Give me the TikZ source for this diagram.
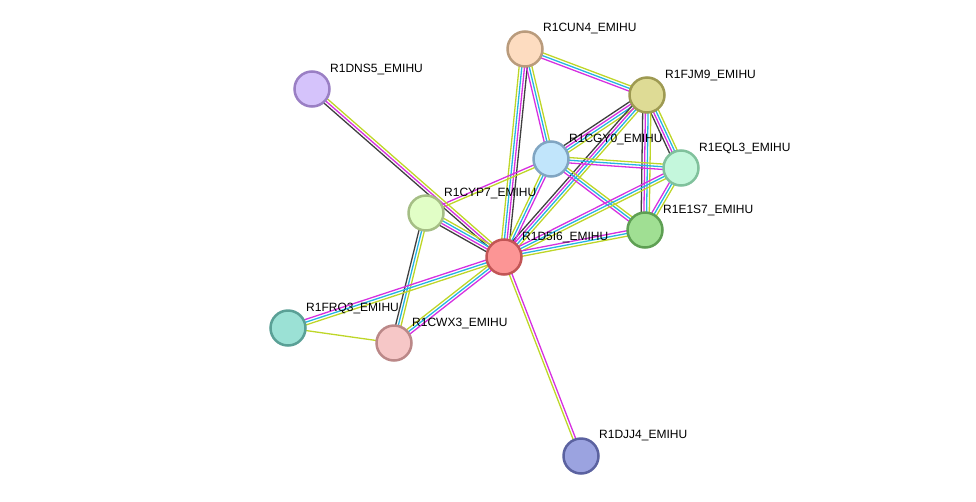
\documentclass[tikz,border=0pt]{standalone}
\usepackage{fontspec}
\setmainfont{Liberation Sans}
\usetikzlibrary{calc,backgrounds}

% evidence colours
\definecolor{exp}{RGB}{214,48,224}
\definecolor{db}{RGB}{38,180,226}
\definecolor{txt}{RGB}{190,214,40}
\definecolor{coex}{RGB}{64,64,64}

% node colours (fill / rim)
\definecolor{cun4f}{RGB}{253,220,192} \definecolor{cun4d}{RGB}{185,155,124}
\definecolor{fjm9f}{RGB}{222,219,149} \definecolor{fjm9d}{RGB}{158,154,82}
\definecolor{dns5f}{RGB}{213,195,251} \definecolor{dns5d}{RGB}{154,127,196}
\definecolor{cgy0f}{RGB}{193,229,251} \definecolor{cgy0d}{RGB}{128,165,194}
\definecolor{eql3f}{RGB}{196,247,220} \definecolor{eql3d}{RGB}{128,193,156}
\definecolor{cyp7f}{RGB}{225,254,198} \definecolor{cyp7d}{RGB}{165,190,133}
\definecolor{e1s7f}{RGB}{160,223,147} \definecolor{e1s7d}{RGB}{94,159,83}
\definecolor{d5i6f}{RGB}{252,149,149} \definecolor{d5i6d}{RGB}{194,85,85}
\definecolor{frq3f}{RGB}{155,225,213} \definecolor{frq3d}{RGB}{90,160,150}
\definecolor{cwx3f}{RGB}{246,199,199} \definecolor{cwx3d}{RGB}{187,136,136}
\definecolor{djj4f}{RGB}{155,163,224} \definecolor{djj4d}{RGB}{91,98,160}

% one parallel line per evidence channel
\newcommand\strlink[4]{%
  \foreach \c [count=\i] in {#4} {
    \pgfmathsetmacro\off{(\i-(#3+1)/2)*2.7}
    \draw[\c, line width=1.3pt] ($(#1)!\off pt!90:(#2)$) -- ($(#2)!\off pt!-90:(#1)$);
  }}

\tikzset{
  prot/.style={circle, draw=#1d, fill=#1f, line width=2.5pt, minimum size=35pt, inner sep=0pt},
  lbl/.style={anchor=west, inner sep=0pt, font=\fontsize{12}{14}\selectfont}
}

\begin{document}
\begin{tikzpicture}[x=1pt, y=-1pt]
  \useasboundingbox (0,0) rectangle (976,501);

  \node[prot=cun4] (cun4) at (525,49) {};
  \node[prot=fjm9] (fjm9) at (647,95) {};
  \node[prot=dns5] (dns5) at (312,89) {};
  \node[prot=cgy0] (cgy0) at (551,159) {};
  \node[prot=eql3] (eql3) at (681,168) {};
  \node[prot=cyp7] (cyp7) at (426,213) {};
  \node[prot=e1s7] (e1s7) at (645,230) {};
  \node[prot=d5i6] (d5i6) at (504,257) {};
  \node[prot=frq3] (frq3) at (288,328) {};
  \node[prot=cwx3] (cwx3) at (394,343) {};
  \node[prot=djj4] (djj4) at (581,456) {};

  \begin{scope}[on background layer]
    \strlink{cun4}{fjm9}{3}{exp,db,txt}
    \strlink{cun4}{d5i6}{4}{txt,db,exp,coex}
    \strlink{cun4}{cgy0}{3}{exp,db,txt}
    \strlink{fjm9}{cgy0}{4}{coex,exp,db,txt}
    \strlink{fjm9}{d5i6}{4}{coex,exp,db,txt}
    \strlink{fjm9}{eql3}{4}{coex,exp,db,txt}
    \strlink{fjm9}{e1s7}{4}{coex,exp,db,txt}
    \strlink{cgy0}{eql3}{3}{exp,db,txt}
    \strlink{cgy0}{e1s7}{3}{exp,db,txt}
    \strlink{cgy0}{d5i6}{3}{txt,db,exp}
    \strlink{cgy0}{cyp7}{2}{exp,txt}
    \strlink{eql3}{e1s7}{3}{exp,db,txt}
    \strlink{eql3}{d5i6}{3}{exp,db,txt}
    \strlink{e1s7}{d5i6}{3}{exp,db,txt}
    \strlink{dns5}{d5i6}{3}{coex,exp,txt}
    \strlink{cyp7}{d5i6}{4}{coex,exp,db,txt}
    \strlink{cyp7}{cwx3}{3}{coex,db,txt}
    \strlink{frq3}{d5i6}{3}{txt,db,exp}
    \strlink{frq3}{cwx3}{1}{txt}
    \strlink{cwx3}{d5i6}{3}{exp,db,txt}
    \strlink{djj4}{d5i6}{2}{exp,txt}
  \end{scope}

  \node[lbl] (cun4-l) at ([shift={(18,-20)}]cun4.center) {R1CUN4\_EMIHU};
  \node[lbl] (fjm9-l) at ([shift={(18,-20)}]fjm9.center) {R1FJM9\_EMIHU};
  \node[lbl] (dns5-l) at ([shift={(18,-20)}]dns5.center) {R1DNS5\_EMIHU};
  \node[lbl] (cgy0-l) at ([shift={(18,-20)}]cgy0.center) {R1CGY0\_EMIHU};
  \node[lbl] (eql3-l) at ([shift={(18,-20)}]eql3.center) {R1EQL3\_EMIHU};
  \node[lbl] (cyp7-l) at ([shift={(18,-20)}]cyp7.center) {R1CYP7\_EMIHU};
  \node[lbl] (e1s7-l) at ([shift={(18,-20)}]e1s7.center) {R1E1S7\_EMIHU};
  \node[lbl] (d5i6-l) at ([shift={(18,-20)}]d5i6.center) {R1D5I6\_EMIHU};
  \node[lbl] (frq3-l) at ([shift={(18,-20)}]frq3.center) {R1FRQ3\_EMIHU};
  \node[lbl] (cwx3-l) at ([shift={(18,-20)}]cwx3.center) {R1CWX3\_EMIHU};
  \node[lbl] (djj4-l) at ([shift={(18,-20)}]djj4.center) {R1DJJ4\_EMIHU};
\end{tikzpicture}
\end{document}
